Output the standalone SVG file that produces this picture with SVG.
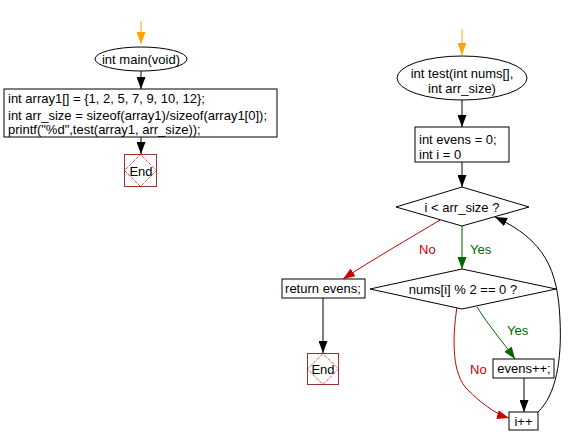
<svg xmlns="http://www.w3.org/2000/svg" width="571" height="446" viewBox="0 0 571 446">
<defs>
<style>
text{font-family:"Liberation Sans",Arial,sans-serif;font-size:13px;fill:#000}
.c{text-anchor:middle}
.box{fill:#fff;stroke:#000;stroke-width:1}
.endbox{fill:#fff;stroke:#993333;stroke-width:1}
.enddia{fill:none;stroke:#cc0000;stroke-width:1;stroke-dasharray:1,1}
.ln{fill:none;stroke:#000;stroke-width:1}
.red{fill:none;stroke:#cc0000;stroke-width:1}
.grn{fill:none;stroke:#006600;stroke-width:1}
.org{fill:none;stroke:#ffa500;stroke-width:1}
.rt{fill:#cc0000}
.gt{fill:#006600}
</style>
<marker id="ab" markerUnits="userSpaceOnUse" markerWidth="12" markerHeight="9" refX="12" refY="4.5" orient="auto"><path d="M0,0 L12,4.5 L0,9 z" fill="#000"/></marker>
<marker id="ar" markerUnits="userSpaceOnUse" markerWidth="12" markerHeight="9" refX="12" refY="4.5" orient="auto"><path d="M0,0 L12,4.5 L0,9 z" fill="#cc0000"/></marker>
<marker id="ag" markerUnits="userSpaceOnUse" markerWidth="12" markerHeight="9" refX="12" refY="4.5" orient="auto"><path d="M0,0 L12,4.5 L0,9 z" fill="#006600"/></marker>
<marker id="ao" markerUnits="userSpaceOnUse" markerWidth="12" markerHeight="9" refX="12" refY="4.5" orient="auto"><path d="M0,0 L12,4.5 L0,9 z" fill="#ffa500"/></marker>
</defs>
<g id="connectors">
<path class="org" d="M141,21 L141,44" marker-end="url(#ao)"/>
<path class="ln" d="M141,71 L141,89" marker-end="url(#ab)"/>
<path class="ln" d="M141,137 L141,154" marker-end="url(#ab)"/>
<path class="org" d="M462,29 L462,55" marker-end="url(#ao)"/>
<path class="ln" d="M462,100 L462,127" marker-end="url(#ab)"/>
<path class="ln" d="M462,162 L462,187" marker-end="url(#ab)"/>
<path class="grn" d="M462,226 L462,269" marker-end="url(#ag)"/>
<path class="red" d="M440,220 C410,238 372,260 343,279" marker-end="url(#ar)"/>
<path class="ln" d="M323,298 L323,353" marker-end="url(#ab)"/>
<path class="grn" d="M477,307 C488,325 503,342 515,359" marker-end="url(#ag)"/>
<path class="ln" d="M524,378 L524,412" marker-end="url(#ab)"/>
<path class="red" d="M457,307 C452,340 452,375 468,390 C480,402 495,414 509,418" marker-end="url(#ar)"/>
<path class="ln" d="M538,412 C556,395 562,360 560,320 C558,270 545,240 495,217" marker-end="url(#ab)"/>
<text x="419" y="254" class="rt">No</text>
<text x="470" y="254" class="gt">Yes</text>
<text x="507" y="335" class="gt">Yes</text>
<text x="470" y="374" class="rt">No</text>
</g>
<g id="main">
<ellipse class="box" cx="141" cy="59" rx="46" ry="12"/>
<text x="141" y="63.5" class="c">int main(void)</text>
</g>
<g id="mainbody">
<rect class="box" x="4" y="89" width="273" height="48"/>
<text x="8" y="102.5">int array1[] = {1, 2, 5, 7, 9, 10, 12};</text>
<text x="8" y="119.5">int arr_size = sizeof(array1)/sizeof(array1[0]);</text>
<text x="8" y="134">printf("%d",test(array1, arr_size));</text>
</g>
<g id="end1">
<rect class="endbox" x="124.5" y="154.5" width="32" height="32"/>
<path class="enddia" d="M140.5,154.5 L156.5,170.5 L140.5,186.5 L124.5,170.5 z"/>
<text x="141" y="175.5" class="c">End</text>
</g>
<g id="test">
<ellipse class="box" cx="462" cy="78" rx="65" ry="22"/>
<text x="462" y="77.5" class="c">int test(int nums[],</text>
<text x="462" y="92.5" class="c">int arr_size)</text>
</g>
<g id="init">
<rect class="box" x="415" y="127" width="94" height="35"/>
<text x="419" y="143.5">int evens = 0;</text>
<text x="419" y="158.5">int i = 0</text>
</g>
<g id="cond1">
<path class="box" d="M462,187 L529,207 L462,226 L396,207 z"/>
<text x="462" y="211.5" class="c">i &lt; arr_size ?</text>
</g>
<g id="cond2">
<path class="box" d="M462,269 L556,289 L462,309 L370,289 z"/>
<text x="463" y="293.5" class="c">nums[i] % 2 == 0 ?</text>
</g>
<g id="ret">
<rect class="box" x="282" y="279" width="83" height="19"/>
<text x="323" y="293" class="c">return evens;</text>
</g>
<g id="end2">
<rect class="endbox" x="307.5" y="353.5" width="31" height="31"/>
<path class="enddia" d="M323,353.5 L338.5,369 L323,384.5 L307.5,369 z"/>
<text x="323" y="373.5" class="c">End</text>
</g>
<g id="inc">
<rect class="box" x="493" y="359" width="61" height="19"/>
<text x="524" y="373" class="c">evens++;</text>
</g>
<g id="iplus">
<rect class="box" x="509" y="412" width="29" height="18"/>
<text x="523.5" y="425.5" class="c">i++</text>
</g>
</svg>
